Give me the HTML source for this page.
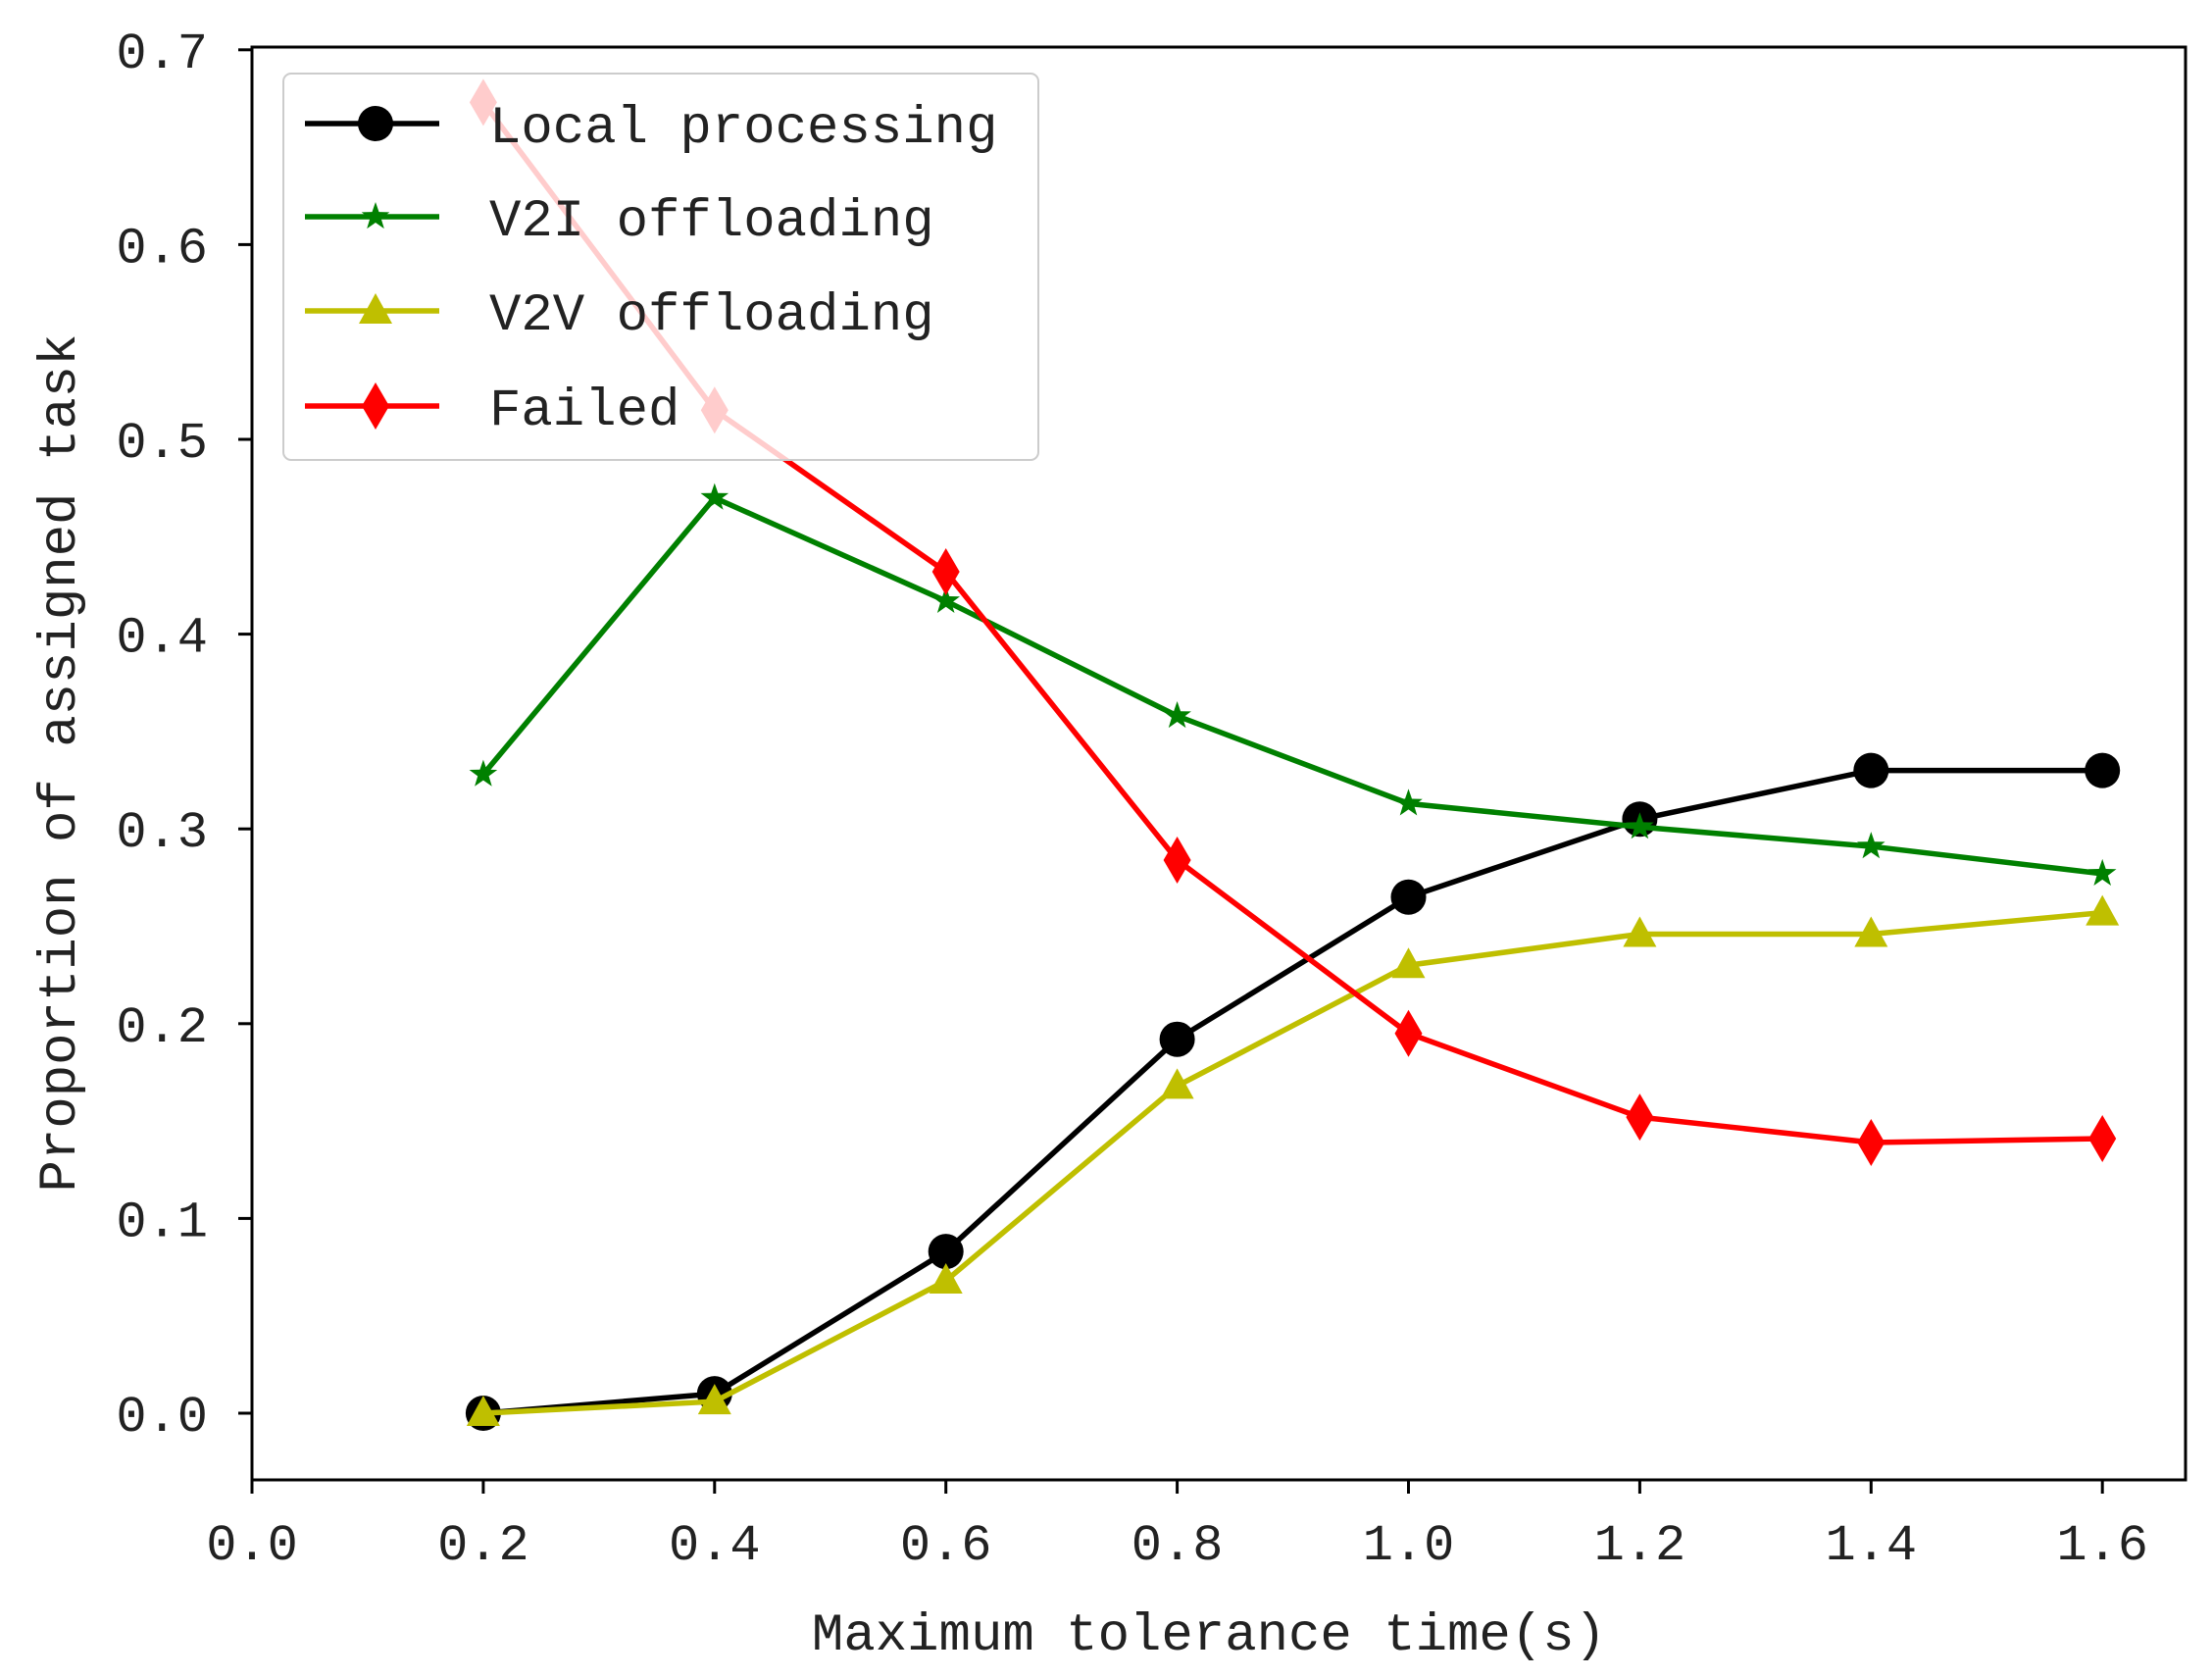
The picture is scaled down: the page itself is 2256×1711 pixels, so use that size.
<!DOCTYPE html>
<html><head><meta charset="utf-8"><style>body{margin:0;background:#fff}svg{display:block}</style></head>
<body>
<svg id="chart" width="2256" height="1711" xmlns="http://www.w3.org/2000/svg" font-family="'Liberation Mono', 'Noto Serif CJK SC', monospace"></svg>
<script>
const xValues = [0.2, 0.4, 0.6, 0.8, 1.0, 1.2, 1.4, 1.6];
const localVals = [0, 0.01, 0.083, 0.192, 0.265, 0.305, 0.33, 0.33];
const v2iVals = [0.328, 0.47, 0.417, 0.358, 0.313, 0.301, 0.291, 0.277];
const v2vVals = [0, 0.006, 0.068, 0.168, 0.23, 0.246, 0.246, 0.257];
const failedVals = [0.673, 0.515, 0.432, 0.284, 0.195, 0.152, 0.139, 0.141];
const xTicks = ['0.0','0.2','0.4','0.6','0.8','1.0','1.2','1.4','1.6'];
const yTicks = ['0.0','0.1','0.2','0.3','0.4','0.5','0.6','0.7'];

const NS='http://www.w3.org/2000/svg';
const svg=document.getElementById('chart');
const L=257,T=48,R=2229,B=1509;
const X=v=>257+v/0.2*235.9;
const Y=v=>1441-v/0.1*198.6;
function mk(tag,attrs,parent){const e=document.createElementNS(NS,tag);for(const k in attrs)e.setAttribute(k,attrs[k]);(parent||svg).appendChild(e);return e;}

const frame=mk('rect',{x:L,y:T,width:R-L,height:B-T,fill:'none',stroke:'#000','stroke-width':3});



xTicks.forEach(t=>{const v=parseFloat(t);
 const tk=mk('line',{x1:X(v),x2:X(v),y1:B,y2:B+14,stroke:'#000','stroke-width':3});
 
 
 const tx=mk('text',{x:X(v),y:1590,'text-anchor':'middle','font-size':52,fill:'#222'});tx.textContent=t;
 
 
});
yTicks.forEach(t=>{const v=parseFloat(t);
 const tk=mk('line',{x1:L-14,x2:L,y1:Y(v),y2:Y(v),stroke:'#000','stroke-width':3});
 
 
 const tx=mk('text',{x:212,y:Y(v)+18,'text-anchor':'end','font-size':52,fill:'#222'});tx.textContent=t;
 
 
});
const xt=mk('text',{x:1233,y:1682,'text-anchor':'middle','font-size':54,fill:'#222'});xt.textContent='Maximum tolerance time(s)';


const yt=mk('text',{x:0,y:0,'text-anchor':'middle','font-size':54,fill:'#222',transform:'translate(76,778) rotate(-90)'});yt.textContent='Proportion of assigned task';



function marker(kind,cx,cy,color,g){
 if(kind==='circle')return mk('circle',{cx,cy,r:18,fill:color},g);
 if(kind==='star'){let p=[];for(let i=0;i<10;i++){const a=-Math.PI/2+i*Math.PI/5,r=i%2?6:15;p.push((cx+r*Math.cos(a)).toFixed(1)+','+(cy+r*Math.sin(a)).toFixed(1));}return mk('polygon',{points:p.join(' '),fill:color},g);}
 if(kind==='tri')return mk('polygon',{points:`${cx},${cy-18} ${cx-17},${cy+13} ${cx+17},${cy+13}`,fill:color},g);
 return mk('polygon',{points:`${cx},${cy-24} ${cx+14},${cy} ${cx},${cy+24} ${cx-14},${cy}`,fill:color},g);
}
const series=[
 {name:'local-processing',label:'Local processing',vals:localVals,color:'#000000',m:'circle'},
 {name:'v2i-offloading',label:'V2I offloading',vals:v2iVals,color:'#008000',m:'star'},
 {name:'v2v-offloading',label:'V2V offloading',vals:v2vVals,color:'#bfbf00',m:'tri'},
 {name:'failed',label:'Failed',vals:failedVals,color:'#ff0000',m:'diamond'}];
series.forEach(s=>{
 const g=mk('g',{});
 
 
 const pl=mk('polyline',{points:xValues.map((x,i)=>X(x)+','+Y(s.vals[i])).join(' '),fill:'none',stroke:s.color,'stroke-width':5.5},g);
 
 
 xValues.forEach((x,i)=>{const m=marker(s.m,X(x),Y(s.vals[i]),s.color,g);
  
  });
});
const lg=mk('g',{});


mk('rect',{x:289,y:75,width:770,height:394,rx:8,fill:'#fff','fill-opacity':0.8,stroke:'#ccc','stroke-width':2},lg);
const ly=[126,221,317,414];
series.forEach((s,i)=>{
 const e=mk('g',{},lg);
 
 
 mk('line',{x1:311,x2:448,y1:ly[i],y2:ly[i],stroke:s.color,'stroke-width':5.5},e);
 marker(s.m,383,ly[i],s.color,e);
 const t=mk('text',{x:499,y:ly[i]+19,'font-size':54,fill:'#222'},e);t.textContent=s.label;
});
</script>
</body></html>
